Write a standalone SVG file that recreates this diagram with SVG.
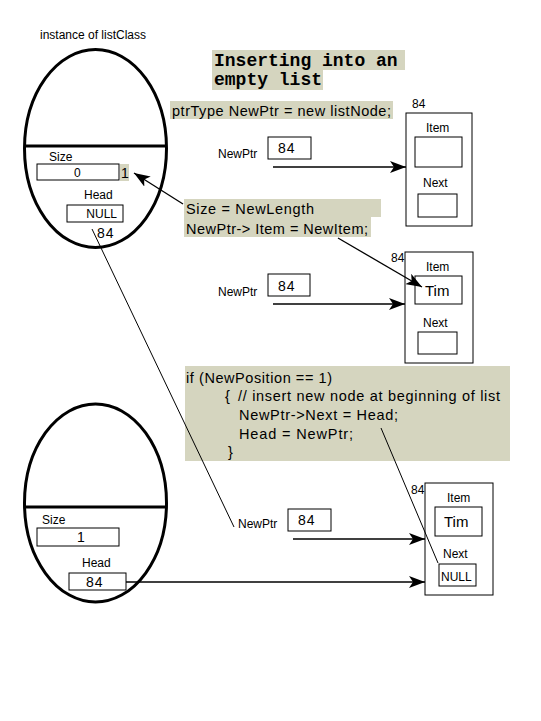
<svg xmlns="http://www.w3.org/2000/svg" width="541" height="721" viewBox="0 0 541 721">
<style>
  .t{font-family:"Liberation Sans",Arial,sans-serif;font-size:12px;fill:#000}
  .n{font-family:"Liberation Sans",Arial,sans-serif;font-size:14px;fill:#000;letter-spacing:1px}
  .c{font-family:"Liberation Sans",Arial,sans-serif;font-size:14.5px;fill:#000}
  .ti{font-family:"Liberation Mono","Courier New",monospace;font-size:18px;font-weight:bold;fill:#000}
  .bx{fill:#fff;stroke:#000;stroke-width:1}
  .ov{fill:#fff;stroke:#000;stroke-width:3}
  .hl{fill:#d5d5bf}
  .ln{stroke:#000;stroke-width:1;fill:none}
  .ar{stroke:#000;stroke-width:1.3;fill:none;marker-end:url(#ah)}
</style>
<defs>
  <marker id="ah" viewBox="0 0 16 12" refX="16" refY="6" markerWidth="16" markerHeight="12" markerUnits="userSpaceOnUse" orient="auto">
    <path d="M0,0 L16,6 L0,12 L4,6 z" fill="#000"/>
  </marker>
</defs>
<rect width="541" height="721" fill="#fff"/>

<g id="title">
  <rect class="hl" x="212" y="50" width="193" height="20"/>
  <rect class="hl" x="212" y="70" width="111" height="20"/>
  <text class="ti" x="214" y="66">Inserting into an</text>
  <text class="ti" x="214" y="85">empty list</text>
</g>

<g id="instance-label">
  <text class="t" x="40" y="39">instance of listClass</text>
</g>

<g id="listClass-top">
  <ellipse class="ov" cx="95.5" cy="148.5" rx="71" ry="99"/>
  <line x1="24.5" y1="146" x2="166.5" y2="146" stroke="#000" stroke-width="3"/>
  <text class="t" x="49" y="161">Size</text>
  <rect class="bx" x="37" y="164" width="82" height="16"/>
  <text class="t" x="74" y="177">0</text>
  <rect class="hl" x="120" y="164" width="9" height="17"/>
  <text class="n" x="121" y="178">1</text>
  <text class="t" x="84" y="199">Head</text>
  <rect class="bx" x="67" y="205" width="56" height="17"/>
  <text class="t" x="117" y="218" text-anchor="end">NULL</text>
  <text class="n" x="97" y="238">84</text>
</g>

<g id="code-new">
  <rect class="hl" x="170" y="101" width="223" height="18"/>
  <text class="c" x="172" y="116" textLength="219" lengthAdjust="spacing">ptrType NewPtr = new listNode;</text>
</g>

<g id="code-size">
  <rect class="hl" x="184" y="199" width="197" height="18"/>
  <rect class="hl" x="184" y="217" width="187" height="20"/>
  <text class="c" x="186" y="214" textLength="128" lengthAdjust="spacing">Size = NewLength</text>
  <text class="c" x="186" y="234" textLength="182" lengthAdjust="spacing">NewPtr-&gt; Item = NewItem;</text>
</g>

<g id="code-if">
  <rect class="hl" x="185" y="366" width="325" height="95"/>
  <text class="c" x="186" y="383" textLength="146" lengthAdjust="spacing">if (NewPosition == 1)</text>
  <text class="c" x="225" y="401">{</text>
  <text class="c" x="238" y="401" textLength="262" lengthAdjust="spacing">// insert new node at beginning of list</text>
  <text class="c" x="239" y="420" textLength="159" lengthAdjust="spacing">NewPtr-&gt;Next = Head;</text>
  <text class="c" x="239" y="439" textLength="114" lengthAdjust="spacing">Head = NewPtr;</text>
  <text class="c" x="228" y="457">}</text>
</g>

<g id="newptr-1">
  <text class="t" x="218" y="158">NewPtr</text>
  <rect class="bx" x="268" y="137" width="43" height="22"/>
  <text class="n" x="278" y="153">84</text>
</g>

<g id="node-1">
  <text class="t" x="412" y="108">84</text>
  <rect class="bx" x="406" y="113" width="66" height="113"/>
  <text class="t" x="426" y="132">Item</text>
  <rect class="bx" x="415" y="137" width="47" height="30"/>
  <text class="t" x="423" y="187">Next</text>
  <rect class="bx" x="418" y="194" width="39" height="23"/>
</g>

<g id="newptr-2">
  <text class="t" x="218" y="296">NewPtr</text>
  <rect class="bx" x="268" y="274" width="42" height="22"/>
  <text class="n" x="278" y="291">84</text>
</g>

<g id="node-2">
  <text class="t" x="391" y="262">84</text>
  <rect class="bx" x="405" y="252" width="68" height="111"/>
  <text class="t" x="426" y="271">Item</text>
  <rect class="bx" x="415" y="276" width="47" height="28"/>
  <text class="t" x="425" y="296" style="font-size:15px">Tim</text>
  <text class="t" x="423" y="327">Next</text>
  <rect class="bx" x="418" y="332" width="39" height="22"/>
</g>

<g id="listClass-bottom">
  <ellipse class="ov" cx="95.5" cy="503" rx="71" ry="99"/>
  <line x1="24.5" y1="507" x2="166.5" y2="507" stroke="#000" stroke-width="3"/>
  <text class="t" x="42" y="524">Size</text>
  <rect class="bx" x="37" y="528" width="82" height="18"/>
  <text class="n" x="77" y="542">1</text>
  <text class="t" x="82" y="567">Head</text>
  <rect class="bx" x="69" y="573" width="57" height="17"/>
  <text class="n" x="86" y="587">84</text>
</g>

<g id="newptr-3">
  <text class="t" x="238" y="528">NewPtr</text>
  <rect class="bx" x="288" y="509" width="43" height="22"/>
  <text class="n" x="298" y="525">84</text>
</g>

<g id="node-3">
  <text class="t" x="411" y="494">84</text>
  <rect class="bx" x="425" y="483" width="68" height="112"/>
  <text class="t" x="447" y="502">Item</text>
  <rect class="bx" x="435" y="507" width="47" height="29"/>
  <text class="t" x="444" y="527" style="font-size:15px">Tim</text>
  <text class="t" x="443" y="558">Next</text>
  <rect class="bx" x="439" y="564" width="37" height="22"/>
  <text class="t" x="441" y="581">NULL</text>
</g>

<g id="connectors">
  <line class="ar" x1="273" y1="167" x2="406" y2="167"/>
  <line class="ar" x1="273" y1="304" x2="405" y2="304"/>
  <line class="ar" x1="293" y1="539" x2="425" y2="539"/>
  <line class="ar" x1="126" y1="582" x2="425" y2="582"/>
  <line class="ar" x1="183" y1="204" x2="134" y2="173"/>
  <line class="ar" x1="338" y1="238" x2="422" y2="287"/>
  <line class="ln" x1="92" y1="229" x2="234" y2="527"/>
  <line class="ln" x1="381" y1="428" x2="438" y2="563"/>
</g>
</svg>
